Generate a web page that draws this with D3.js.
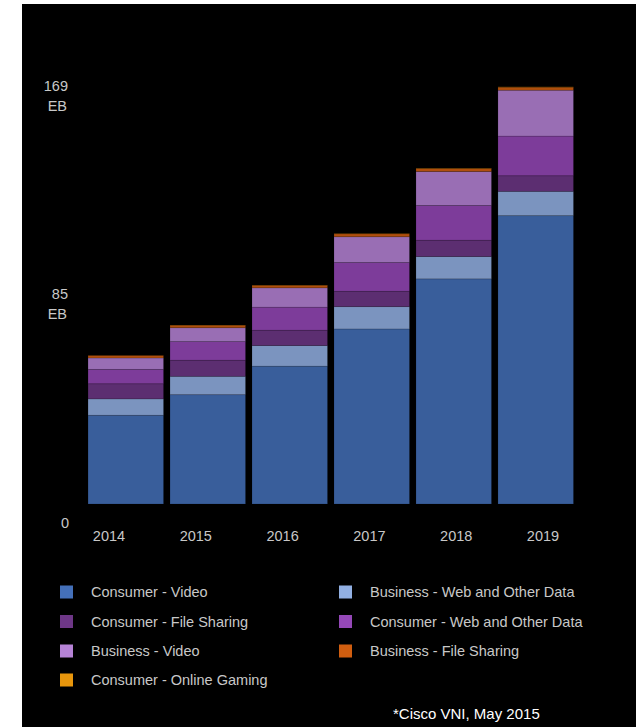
<!DOCTYPE html>
<html>
<head>
<meta charset="utf-8">
<script src="https://cdn.jsdelivr.net/npm/d3@7/dist/d3.min.js"></script>
<style>
  html, body { margin: 0; padding: 0; background: #fff; }
  svg { display: block; }
  text { font-family: "Liberation Sans", Arial, Helvetica, sans-serif; }
</style>
</head>
<body>
<div id="chart"></div>
<script>
// Global IP traffic per month by segment, exabytes
const years = ["2014", "2015", "2016", "2017", "2018", "2019"];
const consumerVideo       = [35.8, 44.1, 55.6, 70.6, 90.8, 116.3];
const businessWeb         = [6.6, 7.4, 8.3, 9.0, 9.0, 9.8];
const consumerFileSharing = [6.1, 6.5, 6.2, 6.2, 6.6, 6.3];
const consumerWeb         = [5.8, 7.5, 9.3, 11.6, 14.0, 16.0];
const businessVideo       = [4.6, 5.6, 7.8, 10.4, 13.7, 18.5];
const businessFileSharing = [1.0, 1.0, 1.0, 1.2, 1.2, 1.2];
const consumerGaming      = [0.05, 0.1, 0.1, 0.1, 0.15, 0.15];

const seriesNames = [
  "Consumer - Video",
  "Business - Web and Other Data",
  "Consumer - File Sharing",
  "Consumer - Web and Other Data",
  "Business - Video",
  "Business - File Sharing",
  "Consumer - Online Gaming"
];
const seriesValues = [consumerVideo, businessWeb, consumerFileSharing, consumerWeb,
                      businessVideo, businessFileSharing, consumerGaming];
const seriesColors = ["#4470b9", "#92b0e3", "#6e3787", "#9548b8", "#b683d6", "#d05e10", "#e8960c"];

const yTicks = [0, 85, 169];
const yUnit = "EB";
const footnote = "*Cisco VNI, May 2015";

const W = 636, H = 727;
const svg = d3.select("#chart").append("svg").attr("width", W).attr("height", H);

// dark panel
svg.append("rect").attr("x", 22).attr("y", 4).attr("width", W - 22).attr("height", H - 4).attr("fill", "#000");

// stack table
const keys = seriesNames;
const table = years.map((yr, i) => {
  const row = { year: yr };
  keys.forEach((k, j) => row[k] = seriesValues[j][i]);
  return row;
});
const stacked = d3.stack().keys(keys)(table);

const x = d3.scaleBand().domain(years).range([84.75, 576.75]).paddingInner(0.079).paddingOuter(0.04);
const y = d3.scaleLinear().domain([0, 169]).range([504, 85]);
// year labels sit on their own, slightly wider spacing
const xLabel = d3.scalePoint().domain(years).range([109, 543]);
const color = d3.scaleOrdinal().domain(keys).range(seriesColors);

const g = svg.append("g");
g.selectAll("g.layer").data(stacked).join("g")
  .attr("class", "layer")
  .attr("fill", d => color(d.key))
  .attr("fill-opacity", 0.84)
  .selectAll("rect").data(d => d).join("rect")
  .attr("x", d => x(d.data.year))
  .attr("width", x.bandwidth())
  .attr("y", d => y(d[1]))
  .attr("height", d => y(d[0]) - y(d[1]))
  .attr("stroke", "#000")
  .attr("stroke-opacity", 0.18)
  .attr("stroke-width", 0.8);

// y tick labels
const yLab = svg.append("g").attr("fill", "#c8c8c8").attr("font-size", "14.5px").attr("text-anchor", "end");
yTicks.forEach(v => {
  if (v === 0) {
    yLab.append("text").attr("x", 69).attr("y", y(v) + 19).attr("dy", "0.35em").text(d3.format("d")(v));
  } else {
    yLab.append("text").attr("x", 68).attr("y", y(v) + 0.5).attr("dy", "0.35em").text(d3.format("d")(v));
    yLab.append("text").attr("x", 67).attr("y", y(v) + 20.5).attr("dy", "0.35em").text(yUnit);
  }
});

// year labels
svg.append("g").attr("fill", "#c8c8c8").attr("font-size", "14.5px").attr("text-anchor", "middle")
  .selectAll("text").data(years).join("text")
  .attr("x", d => xLabel(d))
  .attr("y", 536)
  .attr("dy", "0.35em")
  .text(d => d);

// legend, two columns filled row by row
const legend = svg.append("g").attr("font-size", "14.5px");
const colX = [60, 339], rowY = [592, 621.5, 651, 680];
keys.forEach((k, i) => {
  const cx = colX[i % 2], cy = rowY[Math.floor(i / 2)];
  legend.append("rect").attr("x", cx).attr("y", cy - 6.5).attr("width", 13).attr("height", 13).attr("fill", color(k));
  legend.append("text").attr("x", cx + 31).attr("y", cy).attr("dy", "0.35em").attr("fill", "#c8c8c8").text(k);
});

svg.append("text").attr("x", 393).attr("y", 714).attr("dy", "0.35em")
  .attr("font-size", "15px").attr("fill", "#fff").text(footnote);
</script>
</body>
</html>
